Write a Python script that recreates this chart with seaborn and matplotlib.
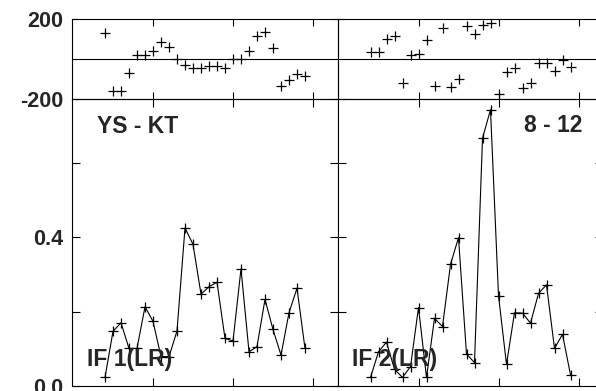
import matplotlib
matplotlib.use("Agg")
import matplotlib.pyplot as plt
import seaborn as sns
import numpy as np
import pandas as pd

# ---- data ----
idx = list(range(26))

phase_left = [130, -157, -157, -67, 21, 21, 43, 83, 63, 0, -28, -45, -42, -32, -32,
              -42, 0, 0, 43, 117, 135, 55, -133, -103, -73, -83]
phase_right = [38, 38, 100, 117, -120, 22, 27, 93, -132, 155, -140, -100, 163, 127,
               172, 180, -173, -62, -42, -145, -117, -20, -20, -58, -3, -37]

coh_left = [0.023, 0.147, 0.170, 0.101, 0.101, 0.213, 0.174, 0.079, 0.079, 0.148,
            0.425, 0.381, 0.247, 0.267, 0.279, 0.128, 0.121, 0.315, 0.092, 0.106,
            0.233, 0.152, 0.083, 0.197, 0.263, 0.101]
coh_right = [0.023, 0.092, 0.118, 0.045, 0.023, 0.052, 0.211, 0.023, 0.182, 0.160,
             0.327, 0.399, 0.086, 0.063, 0.666, 0.743, 0.243, 0.058, 0.197, 0.196,
             0.169, 0.249, 0.272, 0.101, 0.139, 0.030]

panel_titles = ["YS - KT", "8 - 12"]
panel_labels = ["IF 1(LR)", "IF 2(LR)"]
top_ticks = [-200, 200]
top_ticklabels = ["-200", "200"]
bot_ticks = [0.0, 0.2, 0.4, 0.6]
bot_ticklabels = ["0.0", "", "0.4", ""]
x_ticks = [6, 16, 26]

sns.set_style("ticks")
plt.rcParams['font.family'] = ['Liberation Sans', 'DejaVu Sans']
plt.rcParams['font.weight'] = 'bold'

W, H = 596, 391
fig = plt.figure(figsize=(W / 100, H / 100), dpi=100)

def px_axes(x0, x1, ytop, ybot):
    return fig.add_axes([x0 / W, 1 - ybot / H, (x1 - x0) / W, (ybot - ytop) / H])

lefts = [72, 337.5]
pw = 265.5
xlim = (-4.125, -4.125 + pw / 8)

phases = [phase_left, phase_right]
cohs = [coh_left, coh_right]

for i in range(2):
    x0 = lefts[i]
    ax_b = px_axes(x0, x0 + pw, 99.3, 386)
    ax_t = px_axes(x0, x0 + pw, 19, 99.3)

    # bottom panel: coherence-like line with + markers
    df_b = pd.DataFrame({"x": idx, "y": cohs[i]})
    sns.lineplot(data=df_b, x="x", y="y", ax=ax_b, color="black", linewidth=0.8,
                 marker="+", markersize=7.5, markeredgewidth=0.9,
                 markeredgecolor="black")
    ax_b.set_xlim(*xlim)
    ax_b.set_ylim(0, 0.771)
    ax_b.set_xticks(x_ticks)
    ax_b.set_yticks(bot_ticks)
    ax_b.tick_params(direction="in", length=6, width=0.8, top=True, right=True,
                     labelsize=15.5, pad=6.5, color="black")
    ax_b.set_xticklabels([])
    if i == 0:
        ax_b.set_yticklabels(bot_ticklabels, fontweight="bold")
    else:
        ax_b.set_yticklabels([])
    ax_b.set_xlabel("")
    ax_b.set_ylabel("")
    for s in ax_b.spines.values():
        s.set_linewidth(0.8)
        s.set_color("black")
        s.set_visible(True)

    if i == 0:
        ax_b.text((97 - x0) / pw, (386 - 133) / 286.7, panel_titles[i],
                  transform=ax_b.transAxes, fontsize=16.5, fontweight="bold",
                  ha="left", va="baseline")
    else:
        ax_b.text((582 - x0) / pw, (386 - 132) / 286.7, panel_titles[i],
                  transform=ax_b.transAxes, fontsize=16.5, fontweight="bold",
                  ha="right", va="baseline")
    ax_b.text(15 / pw, (386 - 366) / 286.7, panel_labels[i],
              transform=ax_b.transAxes, fontsize=16.5, fontweight="bold",
              ha="left", va="baseline")

    # top panel: phase scatter
    df_t = pd.DataFrame({"x": idx, "y": phases[i]})
    ax_t.axhline(0, color="black", linewidth=0.8, zorder=1)
    sns.scatterplot(data=df_t, x="x", y="y", ax=ax_t, marker="+", color="black",
                    s=56, linewidth=0.9, zorder=3)
    ax_t.set_xlim(*xlim)
    ax_t.set_ylim(-200, 200)
    ax_t.set_xticks(x_ticks)
    ax_t.set_yticks(top_ticks)
    ax_t.tick_params(direction="in", length=5, width=0.8, top=True, right=True,
                     labelsize=15.5, pad=6.5, color="black")
    ax_t.set_xticklabels([])
    if i == 0:
        ax_t.set_yticklabels(top_ticklabels, fontweight="bold")
    else:
        ax_t.set_yticklabels([])
    ax_t.set_xlabel("")
    ax_t.set_ylabel("")
    ax_t.patch.set_alpha(0)
    for s in ax_t.spines.values():
        s.set_linewidth(0.8)
        s.set_color("black")
        s.set_visible(True)

fig.savefig("out.png", dpi=100)
